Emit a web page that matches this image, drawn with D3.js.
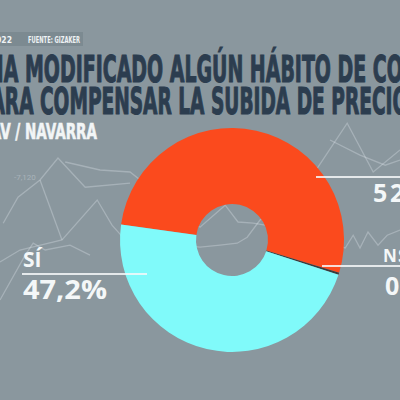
<!DOCTYPE html>
<html>
<head>
<meta charset="utf-8">
<script src="https://cdn.jsdelivr.net/npm/d3@7"></script>
<style>
  html, body { margin: 0; padding: 0; background: #8a979e; overflow: hidden; }
  svg { display: block; }
</style>
</head>
<body>
<div id="chart"></div>
<script>
// Survey answers
const answers = ['No', 'NS/NC', 'Sí'];
const shares = [52.5, 0.3, 47.2];
const shareLabels = ['52,5%', '0,3%', '47,2%'];
const answerLabels = ['', 'NS/NC', 'SÍ'];

// Texts
const titleLines = ['¿HA MODIFICADO ALGÚN HÁBITO DE COMPRA', 'PARA COMPENSAR LA SUBIDA DE PRECIOS?'];
const region = 'CAV / NAVARRA';
const badgeDate = '2022';
const badgeSource = 'FUENTE: GIZAKER';
const bgTickLabel = '-7,120';

// Faint decorative trend lines behind the donut (0-100 units)
const bgLines = [
    [[0.8, 55.8], [4.5, 49.3], [10, 45], [14.5, 39.5], [21.3, 46.8], [32.5, 45.8]],
    [[10, 45], [15.5, 60]],
    [[0, 65.5], [5, 62.5], [15.5, 60], [24.3, 50], [28, 56.3], [31.3, 60], [50, 61.8], [55, 61.3], [59.3, 60.8], [61.8, 59.3], [65, 55], [72.5, 50]],
    [[16.3, 40.5], [25, 42.5], [32.5, 43], [50, 56.8], [56.3, 51.3], [59.5, 55.5], [63.3, 55.8], [66.3, 56.3], [75, 58.8], [86.3, 62], [88.3, 58.8], [90, 62], [92, 58], [94.5, 61.3], [96.8, 58.8], [100, 57.5]],
    [[75, 47.5], [79.5, 41.8], [86.8, 30.8], [93.3, 43], [100, 37.5]],
    [[0, 75], [6.3, 63.8], [8.3, 60.8], [11.3, 62.5], [17.5, 61.3], [22.5, 63.8]],
    [[82.5, 35], [90, 38.8], [96.3, 41.3], [100, 40]]
];

const width = 400;
const height = 400;

const svg = d3.select('#chart')
    .append('svg')
    .attr('width', width)
    .attr('height', height);

svg.append('rect')
    .attr('width', width)
    .attr('height', height)
    .attr('fill', '#8a979e');

// Background trend lines
const bx = d3.scaleLinear().domain([0, 100]).range([0, width]);
const by = d3.scaleLinear().domain([0, 100]).range([0, height]);
const bgLine = d3.line().x(d => bx(d[0])).y(d => by(d[1]));

svg.append('g')
    .selectAll('path')
    .data(bgLines)
    .join('path')
    .attr('d', bgLine)
    .attr('fill', 'none')
    .attr('stroke', '#e4eaee')
    .attr('stroke-opacity', 0.32)
    .attr('stroke-width', 1.3);

svg.append('text')
    .attr('x', bx(3.5))
    .attr('y', by(45))
    .attr('font-family', 'Roboto, sans-serif')
    .attr('font-size', 8)
    .attr('fill', '#e4eaee')
    .attr('fill-opacity', 0.35)
    .text(bgTickLabel);

// Stretch a text so that char i0 starts at x0 and char i1 starts (or ends) at x1
function fitText(sel, i0, x0, i1, x1, useEnd) {
    const node = sel.node();
    const p0 = node.getStartPositionOfChar(i0).x;
    const p1 = useEnd ? node.getEndPositionOfChar(i1).x : node.getStartPositionOfChar(i1).x;
    const sx = (x1 - x0) / (p1 - p0);
    sel.attr('transform', `translate(${x0 - p0 * sx},0) scale(${sx},1)`);
}

const condensed = '"Liberation Sans Narrow", "DejaVu Sans Condensed", "Roboto", sans-serif';

// Source badge
svg.append('rect')
    .attr('x', 0).attr('y', 32)
    .attr('width', 83).attr('height', 14)
    .attr('fill', '#76848c')
    .attr('fill-opacity', 0.7);

svg.append('text')
    .attr('x', 12).attr('y', 42.5)
    .attr('text-anchor', 'end')
    .attr('font-family', condensed)
    .attr('font-weight', 700)
    .attr('font-size', 8.5)
    .attr('fill', '#eef2f4')
    .text(badgeDate);

svg.append('text')
    .attr('x', 28).attr('y', 42.5)
    .attr('font-family', condensed)
    .attr('font-weight', 700)
    .attr('font-size', 8.5)
    .attr('fill', '#eef2f4')
    .attr('textLength', 52)
    .attr('lengthAdjust', 'spacingAndGlyphs')
    .text(badgeSource);

// Title
const t1 = svg.append('text')
    .attr('x', 0).attr('y', 82)
    .attr('font-family', condensed)
    .attr('font-weight', 700)
    .attr('font-size', 37)
    .attr('fill', '#2c3d4f')
    .attr('stroke', '#2c3d4f')
    .attr('stroke-width', 1.1)
    .text(titleLines[0]);
fitText(t1, titleLines[0].indexOf('MODIFICADO'), 25, titleLines[0].lastIndexOf('COMPRA'), 373, false);

const t2 = svg.append('text')
    .attr('x', 0).attr('y', 114)
    .attr('font-family', condensed)
    .attr('font-weight', 700)
    .attr('font-size', 37)
    .attr('fill', '#2c3d4f')
    .attr('stroke', '#2c3d4f')
    .attr('stroke-width', 1.1)
    .text(titleLines[1]);
fitText(t2, titleLines[1].indexOf('COMPENSAR'), 40, titleLines[1].lastIndexOf('CIOS'), 372, false);

const t3 = svg.append('text')
    .attr('x', 0).attr('y', 139)
    .attr('font-family', condensed)
    .attr('font-weight', 700)
    .attr('font-size', 22)
    .attr('fill', '#f2f5f6')
    .attr('stroke', '#f2f5f6')
    .attr('stroke-width', 0.6)
    .text(region);
fitText(t3, region.indexOf('N'), 25, region.length - 1, 97, true);

// Donut
const cx = 232;
const cy = 240;
const start = -82 * Math.PI / 180;

const color = d3.scaleOrdinal()
    .domain(answers)
    .range(['#fb4a1d', '#3b3b3c', '#80fafa']);

const pie = d3.pie()
    .sort(null)
    .value(d => d.value)
    .startAngle(start)
    .endAngle(start + 2 * Math.PI);

const arc = d3.arc().innerRadius(36).outerRadius(112);

const slices = pie(answers.map((a, i) => ({ answer: a, value: shares[i] })));

svg.append('g')
    .attr('transform', `translate(${cx},${cy})`)
    .selectAll('path')
    .data(slices)
    .join('path')
    .attr('d', arc)
    .attr('fill', d => color(d.data.answer));

// Labels: rule + texts per answer
const labelFont = '"Open Sans", "Lato", sans-serif';
const labelLayout = [
    { rule: [316, 400, 177], value: [373, 202, 25, null, 2.6] },
    { rule: [322, 400, 266], name: [383, 262, 17, 1.2], value: [385, 295, 25, null, 2.6] },
    { rule: [22, 147, 274], name: [23, 267, 21, 0], value: [23, 299, 27, 84, 0] }
];

const labels = svg.append('g');

labelLayout.forEach((l, i) => {
    labels.append('line')
        .attr('x1', l.rule[0]).attr('x2', l.rule[1])
        .attr('y1', l.rule[2]).attr('y2', l.rule[2])
        .attr('stroke', '#f4f7f8')
        .attr('stroke-opacity', 0.85)
        .attr('stroke-width', 2);

    if (l.name) {
        labels.append('text')
            .attr('x', l.name[0]).attr('y', l.name[1])
            .attr('font-family', labelFont)
            .attr('font-weight', 700)
            .attr('font-size', l.name[2])
            .attr('letter-spacing', l.name[3])
            .attr('fill', '#f4f7f8')
            .text(answerLabels[i]);
    }

    const v = labels.append('text')
        .attr('x', l.value[0]).attr('y', l.value[1])
        .attr('font-family', labelFont)
        .attr('font-weight', 700)
        .attr('font-size', l.value[2])
        .attr('letter-spacing', l.value[4])
        .attr('fill', '#f4f7f8')
        .text(shareLabels[i]);
    if (l.value[3]) {
        v.attr('textLength', l.value[3]).attr('lengthAdjust', 'spacingAndGlyphs');
    }
});
</script>
</body>
</html>
